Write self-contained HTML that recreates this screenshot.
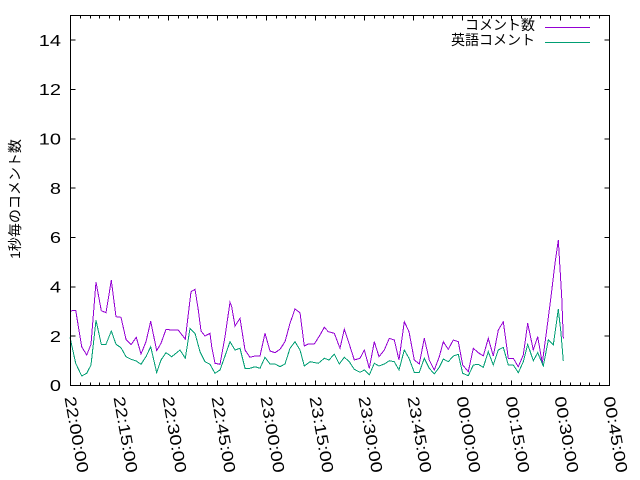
<!DOCTYPE html>
<html><head><meta charset="utf-8"><style>
html,body{margin:0;padding:0;background:#fff;}
svg{display:block;}
text{font-family:"Liberation Sans","Noto Sans CJK JP",sans-serif;fill:#000;}
</style></head><body>
<svg width="640" height="480" viewBox="0 0 640 480" xmlns="http://www.w3.org/2000/svg">
<rect width="640" height="480" fill="#fff"/>
<g stroke="#000" stroke-width="1" shape-rendering="crispEdges" fill="none">
<!-- y ticks -->
<path d="M70.5 385.5h5M609.5 385.5h-5M70.5 336.2h5M609.5 336.2h-5M70.5 286.8h5M609.5 286.8h-5M70.5 237.5h5M609.5 237.5h-5M70.5 188.2h5M609.5 188.2h-5M70.5 138.8h5M609.5 138.8h-5M70.5 89.5h5M609.5 89.5h-5M70.5 40.2h5M609.5 40.2h-5"/>
<!-- x major ticks -->
<path d="M119.5 385.5v-5M119.5 15.5v5M168.5 385.5v-5M168.5 15.5v5M217.5 385.5v-5M217.5 15.5v5M266.5 385.5v-5M266.5 15.5v5M315.5 385.5v-5M315.5 15.5v5M364.5 385.5v-5M364.5 15.5v5M413.5 385.5v-5M413.5 15.5v5M462.5 385.5v-5M462.5 15.5v5M511.5 385.5v-5M511.5 15.5v5M560.5 385.5v-5M560.5 15.5v5"/>
<!-- x minor ticks -->
<path d="M80.5 385.5v-3M80.5 15.5v3M90.5 385.5v-3M90.5 15.5v3M99.5 385.5v-3M99.5 15.5v3M109.5 385.5v-3M109.5 15.5v3M129.5 385.5v-3M129.5 15.5v3M139.5 385.5v-3M139.5 15.5v3M148.5 385.5v-3M148.5 15.5v3M158.5 385.5v-3M158.5 15.5v3M178.5 385.5v-3M178.5 15.5v3M188.5 385.5v-3M188.5 15.5v3M197.5 385.5v-3M197.5 15.5v3M207.5 385.5v-3M207.5 15.5v3M227.5 385.5v-3M227.5 15.5v3M237.5 385.5v-3M237.5 15.5v3M246.5 385.5v-3M246.5 15.5v3M256.5 385.5v-3M256.5 15.5v3M276.5 385.5v-3M276.5 15.5v3M286.5 385.5v-3M286.5 15.5v3M295.5 385.5v-3M295.5 15.5v3M305.5 385.5v-3M305.5 15.5v3M325.5 385.5v-3M325.5 15.5v3M335.5 385.5v-3M335.5 15.5v3M344.5 385.5v-3M344.5 15.5v3M354.5 385.5v-3M354.5 15.5v3M374.5 385.5v-3M374.5 15.5v3M384.5 385.5v-3M384.5 15.5v3M393.5 385.5v-3M393.5 15.5v3M403.5 385.5v-3M403.5 15.5v3M423.5 385.5v-3M423.5 15.5v3M433.5 385.5v-3M433.5 15.5v3M442.5 385.5v-3M442.5 15.5v3M452.5 385.5v-3M452.5 15.5v3M472.5 385.5v-3M472.5 15.5v3M482.5 385.5v-3M482.5 15.5v3M491.5 385.5v-3M491.5 15.5v3M501.5 385.5v-3M501.5 15.5v3M521.5 385.5v-3M521.5 15.5v3M531.5 385.5v-3M531.5 15.5v3M540.5 385.5v-3M540.5 15.5v3M550.5 385.5v-3M550.5 15.5v3M570.5 385.5v-3M570.5 15.5v3M580.5 385.5v-3M580.5 15.5v3M589.5 385.5v-3M589.5 15.5v3M599.5 385.5v-3M599.5 15.5v3"/>
</g>
<!-- y tick labels -->
<g font-size="16" text-anchor="end">
<text transform="translate(61,391.2) scale(1.25,1)">0</text>
<text transform="translate(61,341.9) scale(1.25,1)">2</text>
<text transform="translate(61,292.5) scale(1.25,1)">4</text>
<text transform="translate(61,243.2) scale(1.25,1)">6</text>
<text transform="translate(61,193.9) scale(1.25,1)">8</text>
<text transform="translate(61,144.5) scale(1.25,1)">10</text>
<text transform="translate(61,95.2) scale(1.25,1)">12</text>
<text transform="translate(61,45.9) scale(1.25,1)">14</text>
</g>
<!-- x tick labels -->
<g font-size="16">
<text transform="translate(64.5,397.5) rotate(80) scale(1.24,1)">22:00:00</text>
<text transform="translate(113.5,397.5) rotate(80) scale(1.24,1)">22:15:00</text>
<text transform="translate(162.5,397.5) rotate(80) scale(1.24,1)">22:30:00</text>
<text transform="translate(211.5,397.5) rotate(80) scale(1.24,1)">22:45:00</text>
<text transform="translate(260.5,397.5) rotate(80) scale(1.24,1)">23:00:00</text>
<text transform="translate(309.5,397.5) rotate(80) scale(1.24,1)">23:15:00</text>
<text transform="translate(358.5,397.5) rotate(80) scale(1.24,1)">23:30:00</text>
<text transform="translate(407.5,397.5) rotate(80) scale(1.24,1)">23:45:00</text>
<text transform="translate(456.5,397.5) rotate(80) scale(1.24,1)">00:00:00</text>
<text transform="translate(505.5,397.5) rotate(80) scale(1.24,1)">00:15:00</text>
<text transform="translate(554.5,397.5) rotate(80) scale(1.24,1)">00:30:00</text>
<text transform="translate(603.5,397.5) rotate(80) scale(1.24,1)">00:45:00</text>
</g>
<!-- y axis label -->
<text transform="translate(20,199) rotate(-90)" font-size="14" text-anchor="middle">1秒毎のコメント数</text>
<!-- data -->
<g fill="none" stroke-width="1" shape-rendering="crispEdges">
<polyline stroke="#9400d3" points="70,311 75.7,310.3 81.7,346.7 86.7,355 91,344.3 96,282 101.3,310.7 106,312.7 111.3,280.3 116,316.7 121,317.3 126,339.3 131,344.7 136.3,337.3 141,354 146,341.7 150.7,321.3 156.7,350.7 161,343.3 166,329.3 171,330 178.3,330 185.3,339.3 191,291.7 195,289.3 198.3,310 201,331 205,336 210,333.3 211.7,346.7 215,363.3 220,364.3 225,336.7 230,302.3 231.7,306.7 235,326 240,318.3 245,350 250,357.3 255,356 260,356 265,333.3 270,351 275,352.7 280,349.3 285,341.7 290,323.3 295,309 300,312.7 304.3,346 308.3,344 314.3,344 320,335 324.3,327.3 328.3,331.7 334.3,333.3 340,348.3 344.3,329.3 349,343.3 354.3,360 360,358.3 364.3,350 369.3,368.3 374.3,341.7 379,356.7 384.3,350 389.3,338.3 394.3,340 399,360 404.3,321.7 409,331.7 414.3,360 419.3,364 424.3,338.3 429.3,360 434.3,370 439.3,356.7 443.3,341.7 448.3,349.3 453.3,340 458.3,341.7 462.7,365 468.3,371.7 473.3,348.3 478.3,352.7 483.3,356 488.3,338.3 493.3,356 498.3,330 503.3,321.7 508.3,358.3 513.3,358.3 518.3,366.7 523.3,355 527.7,323.3 533.3,350 537.7,336.7 542.3,363.3 546.7,330 551,296.7 555,263.3 558.3,240 561.7,296.7 563.3,338.3"/>
<polyline stroke="#009e73" points="70,337.3 75.7,363.3 81.7,376 86.7,373.3 91,365 96,320.3 101.3,344.3 106,344.3 111.3,331 116,344.3 121,347.7 126,356.7 131,359.3 136.3,361 141,364.3 146,356.7 150.7,346.7 156.7,372.7 161,360 166,352.7 171.7,356.7 180,350 185.3,358.3 190,328.3 195,333.3 200,351.7 205,361.7 210,364.3 215,373.3 220,370 225,356 230,341.7 235,350 240,348.3 245,368.3 250,368.3 255,366.7 260,368.3 265,357.3 270,364 275,364 280,366.7 285,364 290,348.3 295,341.7 300,350 304.3,366 310,361.7 318.3,363.3 324.3,358.3 329,360 334.3,354 339.3,364 344.3,357.3 349.3,361.7 354.3,369.3 360,372.3 364.3,370 369.3,375 374.3,363.3 379,366 384.3,364 389.3,360.7 394.3,361.7 399,370 404.3,350 409,358.3 414.3,372.3 419.3,372.3 424.3,358.3 429.3,368.3 434.3,374 439.3,367.3 443.3,359 448.3,361.7 453.3,356 458.3,354.3 462.7,373.3 468.3,375.7 473.3,365 478.3,364.3 483.3,367.3 488.3,351.7 493.3,365 498.3,350 503.3,347.3 508.3,365 513.3,365 518.3,372.7 523.3,361.7 527.7,344.3 533.3,360.7 537.7,352.7 543.3,366 548.3,340 553.3,345 558.3,309.3 561,333.3 563.3,361"/>
</g>
<!-- border -->
<rect x="70.5" y="15.5" width="539" height="370" fill="none" stroke="#000" stroke-width="1" shape-rendering="crispEdges"/>
<!-- legend -->
<g font-size="14" text-anchor="end">
<text x="535" y="30">コメント数</text>
<text x="535" y="45">英語コメント</text>
</g>
<g stroke-width="1" shape-rendering="crispEdges">
<line x1="545" y1="27.5" x2="590" y2="27.5" stroke="#9400d3"/>
<line x1="545" y1="42.5" x2="590" y2="42.5" stroke="#009e73"/>
</g>
</svg>
</body></html>
